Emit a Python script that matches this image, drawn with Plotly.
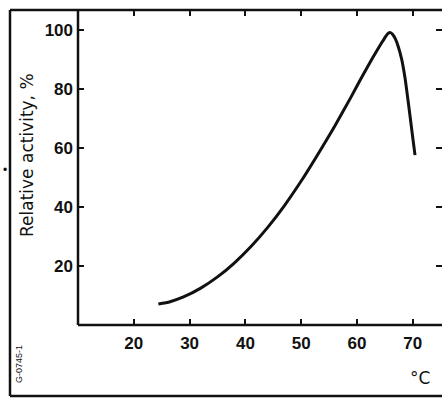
import plotly.graph_objects as go

temps = [24.4, 26.5, 28.9, 32, 35, 38, 41, 44, 47, 50, 53, 56, 59, 60.5, 62, 63.5, 64.5, 65.1,
         65.6, 66.0, 66.4, 66.9, 67.4, 68.0, 68.6, 69.1, 69.6, 70.0, 70.4]
activity = [7.1, 7.9, 9.5, 12.5, 16.3, 21.0, 26.6, 33.1, 40.5, 48.8, 57.9, 67.4, 77.5, 82.8, 87.9, 92.8, 95.9, 97.7,
            98.9, 99.1, 98.5, 96.9, 94.3, 90.1, 83.8, 76.8, 69.4, 63.4, 57.6]
x_ticks = [20, 30, 40, 50, 60, 70]
y_ticks = [20, 40, 60, 80, 100]

W, H = 442, 399
L, R, T, B = 78, 0, 10, 74
pw, ph = W - L - R, H - T - B

def px(x):
    return (x - L) / pw

def py(y):
    return (H - B - y) / ph

fig = go.Figure()
fig.add_trace(go.Scatter(x=temps, y=activity, mode="lines",
                         line=dict(color="#111", width=3, shape="spline", smoothing=0.6),
                         hoverinfo="skip", showlegend=False))

tickfont = dict(family="Liberation Sans, Arial, sans-serif", size=17, color="#111", weight="bold")
fig.update_xaxes(range=[10, 10 + pw / 5.58], tickvals=x_ticks, ticks="inside", ticklen=6, tickwidth=1.5,
                 tickcolor="#111", showline=False, mirror="ticks",
                 showgrid=False, zeroline=False, tickfont=tickfont, ticklabelstandoff=6)
fig.update_yaxes(range=[0, 315 / 2.95], tickvals=y_ticks, ticks="inside", ticklen=6, tickwidth=1.5,
                 tickcolor="#111", showline=False, mirror="ticks",
                 showgrid=False, zeroline=False, tickfont=tickfont, ticklabelstandoff=4)

line_style = dict(color="#111", width=2.5)
# outer frame: left, top, bottom
fig.add_shape(type="line", xref="paper", yref="paper", x0=px(10), x1=px(10), y0=py(396), y1=py(10), line=line_style)
fig.add_shape(type="line", xref="paper", yref="paper", x0=px(10), x1=1, y0=py(10), y1=py(10), line=line_style)
fig.add_shape(type="line", xref="paper", yref="paper", x0=px(10), x1=1, y0=py(396), y1=py(396), line=line_style)
# plot axes: left and bottom
fig.add_shape(type="line", xref="paper", yref="paper", x0=0, x1=0, y0=0, y1=1, line=line_style)
fig.add_shape(type="line", xref="paper", yref="paper", x0=0, x1=1, y0=0, y1=0, line=line_style)

ann_font = dict(family="DejaVu Sans, sans-serif", size=17, color="#111")
fig.add_annotation(text="Relative activity, %", xref="paper", yref="paper", x=px(27), y=py(155),
                   textangle=-90, showarrow=False, xanchor="center", yanchor="middle", font=ann_font)
fig.add_annotation(text="°C", xref="paper", yref="paper", x=px(420), y=py(378),
                   showarrow=False, xanchor="center", yanchor="middle", font=ann_font)
fig.add_annotation(text="G-0745-1", xref="paper", yref="paper", x=px(19), y=py(364),
                   textangle=-90, showarrow=False, xanchor="center", yanchor="middle",
                   font=dict(family="Liberation Sans, Arial, sans-serif", size=9, color="#111"))
fig.add_annotation(text="•", xref="paper", yref="paper", x=px(5), y=py(170),
                   showarrow=False, xanchor="center", yanchor="middle",
                   font=dict(family="Liberation Sans, Arial, sans-serif", size=12, color="#111"))

fig.update_layout(width=W, height=H, margin=dict(l=L, r=R, t=T, b=B),
                  plot_bgcolor="white", paper_bgcolor="white")
fig.write_html("out.html")
